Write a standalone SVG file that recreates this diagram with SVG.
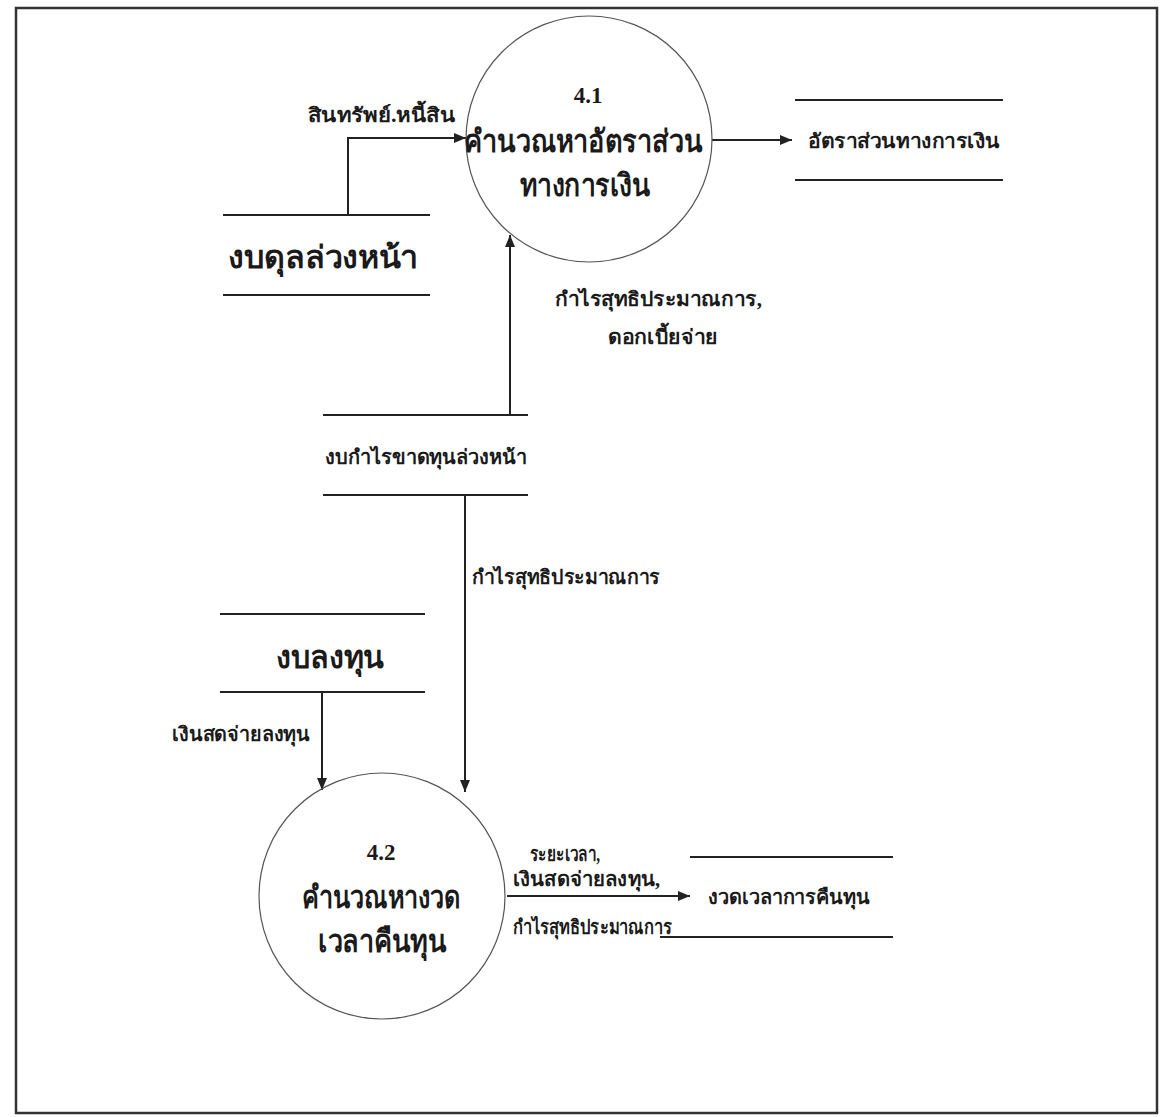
<svg xmlns="http://www.w3.org/2000/svg" width="1164" height="1117" viewBox="0 0 1164 1117">
<defs>
<marker id="ah" viewBox="0 0 12 10" refX="12" refY="5" markerWidth="12" markerHeight="10" markerUnits="userSpaceOnUse" orient="auto">
<path d="M0,0 L12,5 L0,10 z" fill="#222"/>
</marker>
<style>
.ln{stroke:#222;stroke-width:2;fill:none}
.st{stroke:#222;stroke-width:2.2}
.proc{fill:none;stroke:#555;stroke-width:1.2}
.big{font-family:"Liberation Serif","Noto Sans CJK SC",serif;font-size:31px;font-weight:bold;fill:#1a1a1a;text-anchor:middle}
.num{font-family:"Liberation Serif",serif;font-size:23px;font-weight:bold;fill:#1a1a1a;text-anchor:middle}
.lbl{font-family:"Liberation Serif","Noto Sans CJK SC",serif;font-size:20px;font-weight:bold;fill:#1a1a1a}
</style>
</defs>
<rect width="1164" height="1117" fill="#fff"/>
<rect x="16" y="8" width="1141" height="1105" fill="none" stroke="#333" stroke-width="2.5"/>

<g id="connectors">
<path class="ln" d="M348,215 V138 H466" marker-end="url(#ah)"/>
<path class="ln" d="M712,140 H792" marker-end="url(#ah)"/>
<path class="ln" d="M510,415 V235" marker-end="url(#ah)"/>
<path class="ln" d="M465,495 V792" marker-end="url(#ah)"/>
<path class="ln" d="M322,692 V790" marker-end="url(#ah)"/>
<path class="ln" d="M507,896 H690" marker-end="url(#ah)"/>
<text class="lbl" x="308" y="122" textLength="147" lengthAdjust="spacingAndGlyphs">สินทรัพย์.หนี้สิน</text>
<text class="lbl" x="555" y="306" textLength="207" lengthAdjust="spacingAndGlyphs">กำไรสุทธิประมาณการ,</text>
<text class="lbl" x="608" y="344" textLength="110" lengthAdjust="spacingAndGlyphs">ดอกเบี้ยจ่าย</text>
<text class="lbl" x="472" y="584" textLength="188" lengthAdjust="spacingAndGlyphs">กำไรสุทธิประมาณการ</text>
<text class="lbl" x="172" y="741" textLength="138" lengthAdjust="spacingAndGlyphs">เงินสดจ่ายลงทุน</text>
<text class="lbl" x="530" y="861" textLength="70" lengthAdjust="spacingAndGlyphs">ระยะเวลา,</text>
<text class="lbl" x="513" y="886" textLength="147" lengthAdjust="spacingAndGlyphs">เงินสดจ่ายลงทุน,</text>
<text class="lbl" x="513" y="934" textLength="159" lengthAdjust="spacingAndGlyphs">กำไรสุทธิประมาณการ</text>
</g>

<g id="p41">
<circle class="proc" cx="589" cy="139" r="123"/>
<text class="num" x="588" y="103">4.1</text>
<text class="big" x="583" y="152" textLength="238" lengthAdjust="spacingAndGlyphs">คำนวณหาอัตราส่วน</text>
<text class="big" x="585" y="196" textLength="130" lengthAdjust="spacingAndGlyphs">ทางการเงิน</text>
</g>

<g id="p42">
<circle class="proc" cx="382" cy="896" r="123"/>
<text class="num" x="381" y="860">4.2</text>
<text class="big" x="381" y="908" textLength="158" lengthAdjust="spacingAndGlyphs">คำนวณหางวด</text>
<text class="big" x="382" y="952" textLength="128" lengthAdjust="spacingAndGlyphs">เวลาคืนทุน</text>
</g>

<g id="d-balance">
<line class="st" x1="223" y1="215" x2="430" y2="215"/>
<line class="st" x1="223" y1="295" x2="430" y2="295"/>
<text class="big" x="323" y="268" textLength="190" lengthAdjust="spacingAndGlyphs">งบดุลล่วงหน้า</text>
</g>

<g id="d-ratio">
<line class="st" x1="795" y1="100" x2="1003" y2="100"/>
<line class="st" x1="795" y1="180" x2="1003" y2="180"/>
<text class="lbl" x="808" y="148" textLength="192" lengthAdjust="spacingAndGlyphs">อัตราส่วนทางการเงิน</text>
</g>

<g id="d-income">
<line class="st" x1="323" y1="415" x2="528" y2="415"/>
<line class="st" x1="323" y1="495" x2="528" y2="495"/>
<text class="lbl" x="325" y="464" textLength="202" lengthAdjust="spacingAndGlyphs">งบกำไรขาดทุนล่วงหน้า</text>
</g>

<g id="d-invest">
<line class="st" x1="220" y1="614" x2="425" y2="614"/>
<line class="st" x1="220" y1="692" x2="425" y2="692"/>
<text class="big" x="330" y="668" textLength="108" lengthAdjust="spacingAndGlyphs">งบลงทุน</text>
</g>

<g id="d-payback">
<line class="st" x1="690" y1="857" x2="893" y2="857"/>
<line class="st" x1="660" y1="937" x2="893" y2="937"/>
<text class="lbl" x="708" y="904" textLength="162" lengthAdjust="spacingAndGlyphs">งวดเวลาการคืนทุน</text>
</g>
</svg>
